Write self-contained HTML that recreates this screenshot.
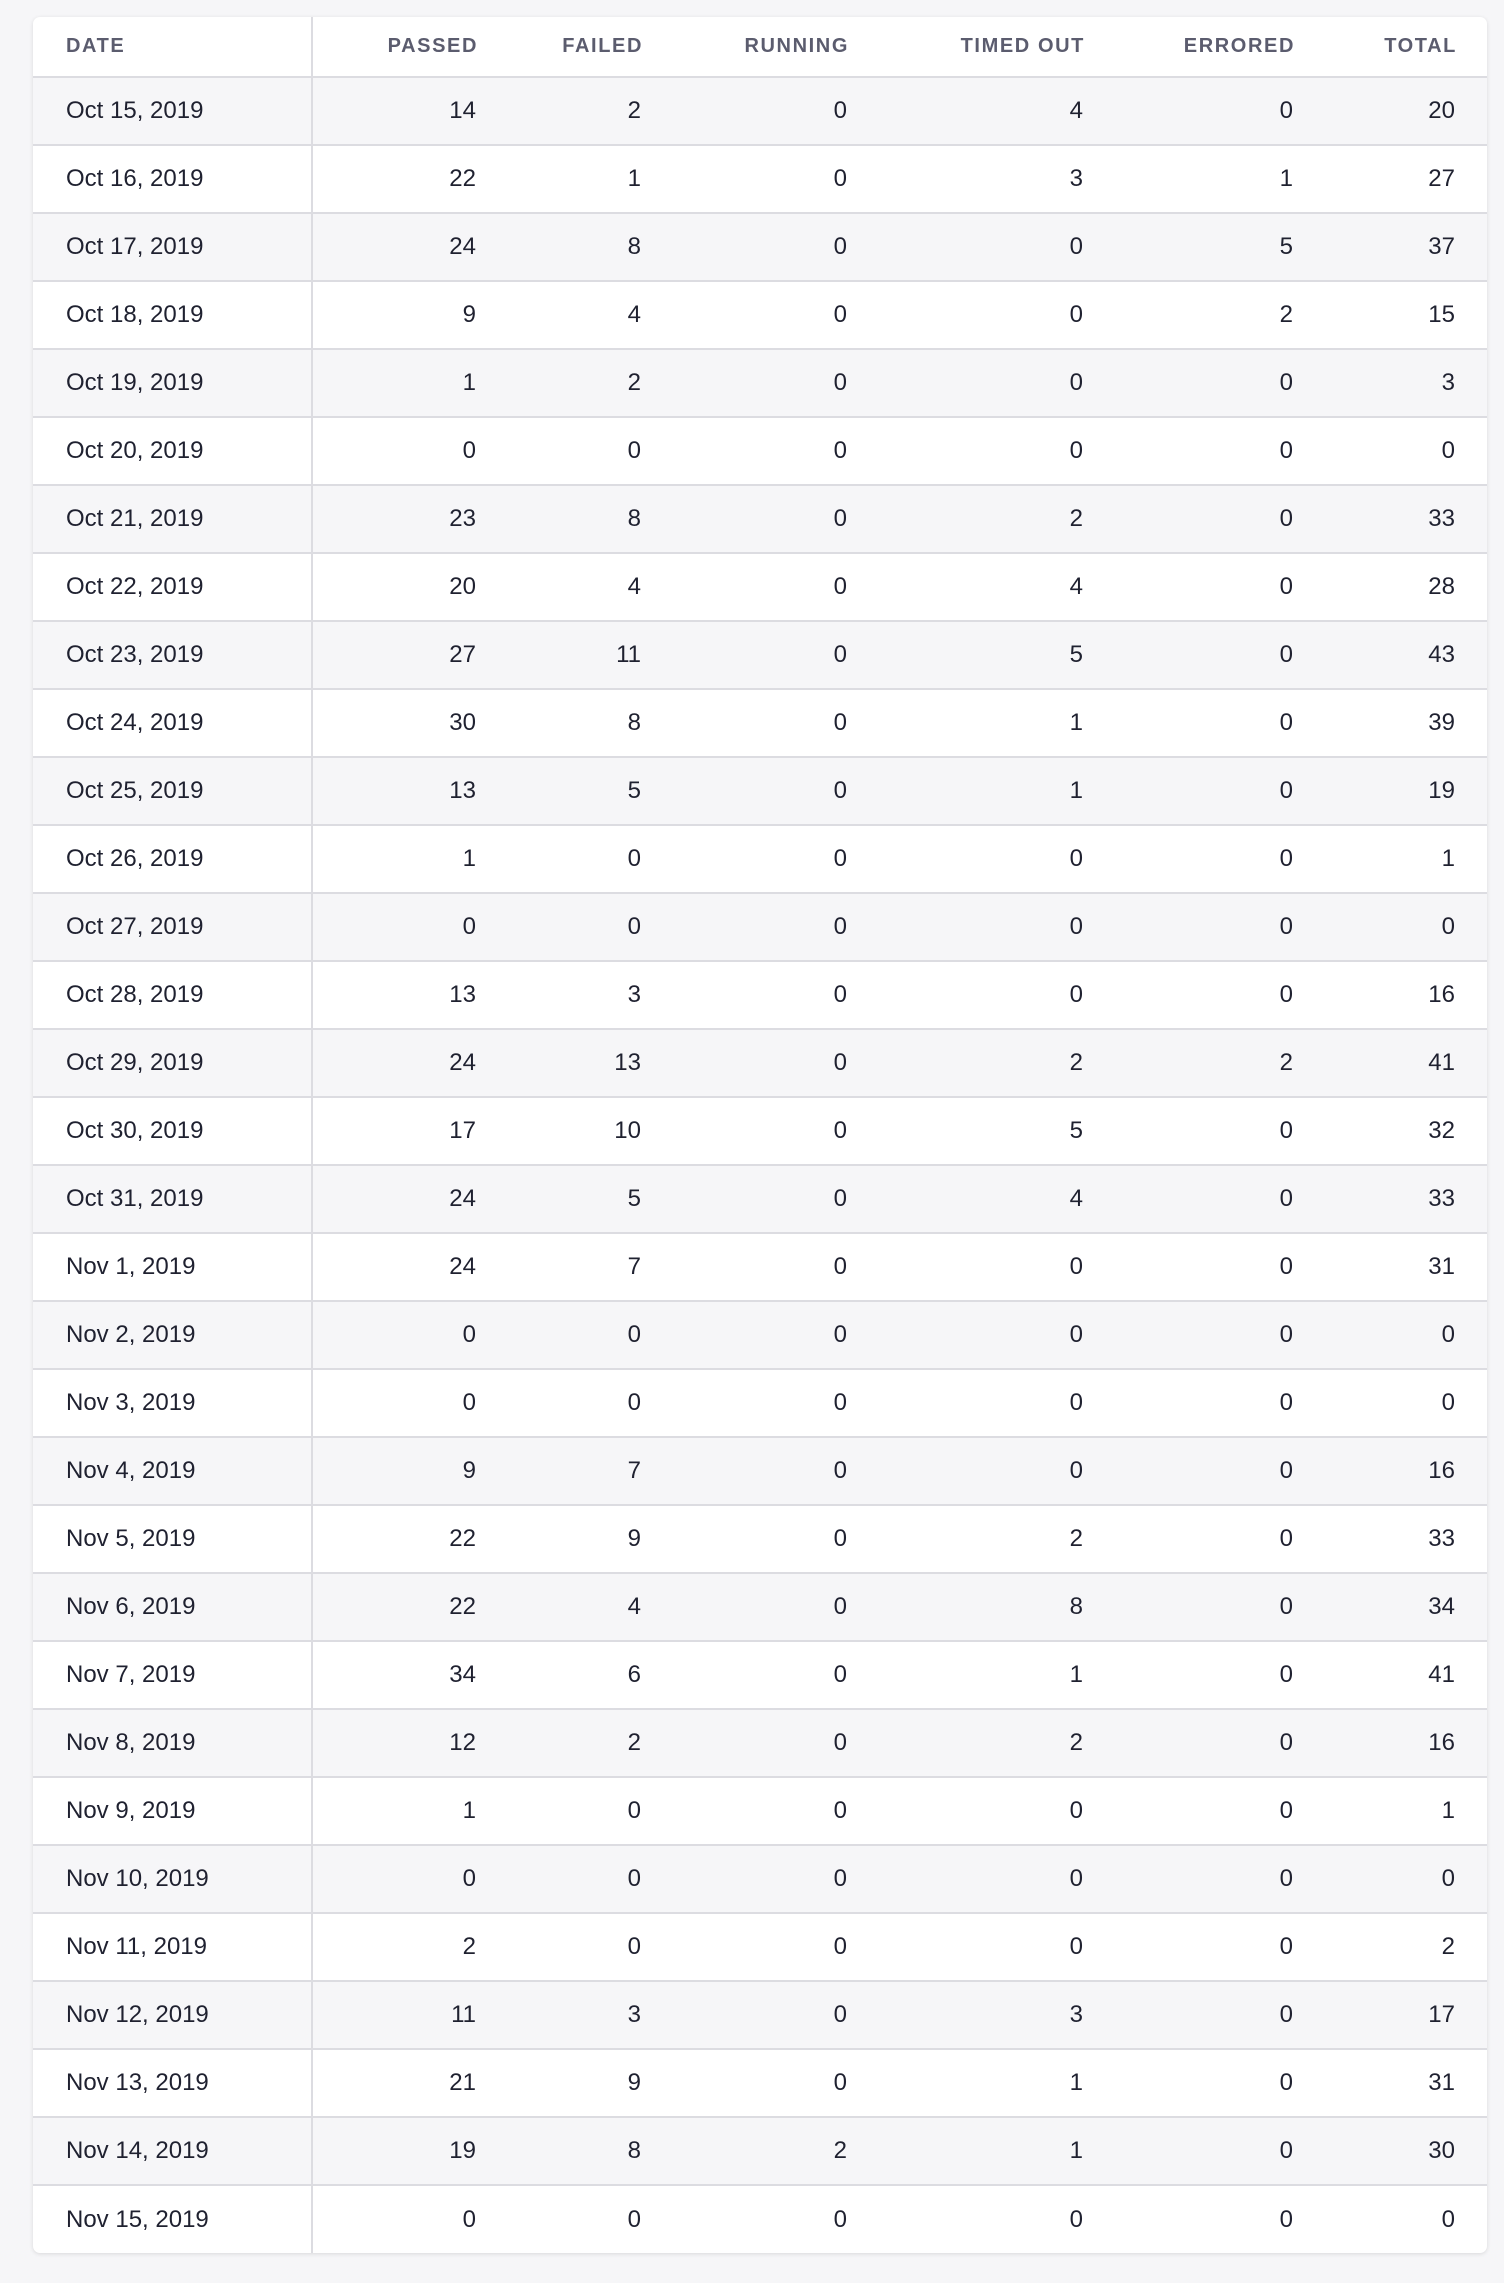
<!DOCTYPE html>
<html><head><meta charset="utf-8">
<style>
html,body{margin:0;padding:0;background:#f6f6f8;width:1504px;height:2283px;overflow:hidden}
#card{position:absolute;left:33px;top:17px;width:1454px;background:#fff;border-radius:7px;box-shadow:0 1px 4px rgba(0,0,0,0.12);overflow:hidden}
table{border-collapse:collapse;table-layout:fixed;width:1454px;font-family:"Liberation Sans",sans-serif}
th{height:60px;font-size:20px;font-weight:bold;letter-spacing:1.6px;color:#5b5c6e;text-align:right;padding:0 30px 0 0;border-bottom:2px solid #dcdce1;box-sizing:border-box}
td{height:68px;font-size:24px;color:#1f2130;text-align:right;padding:0 32px 0 0;border-top:2px solid #dcdce1;box-sizing:border-box}
tr.odd td{background:#f6f6f8}
th:first-child,td:first-child{text-align:left;padding:0 0 0 33px;border-right:2px solid #dcdce1}
tbody tr:first-child td{border-top:none}
</style></head>
<body>
<div id="card">
<table>
<colgroup><col style="width:279px"><col style="width:196px"><col style="width:165px"><col style="width:206px"><col style="width:236px"><col style="width:210px"><col style="width:162px"></colgroup>
<thead><tr>
<th>DATE</th>
<th>PASSED</th>
<th>FAILED</th>
<th>RUNNING</th>
<th>TIMED OUT</th>
<th>ERRORED</th>
<th>TOTAL</th>
</tr></thead>
<tbody id="tb"></tbody>
</table>
</div>
<script>
const dates=["Oct 15, 2019","Oct 16, 2019","Oct 17, 2019","Oct 18, 2019","Oct 19, 2019","Oct 20, 2019","Oct 21, 2019","Oct 22, 2019","Oct 23, 2019","Oct 24, 2019","Oct 25, 2019","Oct 26, 2019","Oct 27, 2019","Oct 28, 2019","Oct 29, 2019","Oct 30, 2019","Oct 31, 2019","Nov 1, 2019","Nov 2, 2019","Nov 3, 2019","Nov 4, 2019","Nov 5, 2019","Nov 6, 2019","Nov 7, 2019","Nov 8, 2019","Nov 9, 2019","Nov 10, 2019","Nov 11, 2019","Nov 12, 2019","Nov 13, 2019","Nov 14, 2019","Nov 15, 2019"];
const passed=[14,22,24,9,1,0,23,20,27,30,13,1,0,13,24,17,24,24,0,0,9,22,22,34,12,1,0,2,11,21,19,0];
const failed=[2,1,8,4,2,0,8,4,11,8,5,0,0,3,13,10,5,7,0,0,7,9,4,6,2,0,0,0,3,9,8,0];
const running=[0,0,0,0,0,0,0,0,0,0,0,0,0,0,0,0,0,0,0,0,0,0,0,0,0,0,0,0,0,0,2,0];
const timedOut=[4,3,0,0,0,0,2,4,5,1,1,0,0,0,2,5,4,0,0,0,0,2,8,1,2,0,0,0,3,1,1,0];
const errored=[0,1,5,2,0,0,0,0,0,0,0,0,0,0,2,0,0,0,0,0,0,0,0,0,0,0,0,0,0,0,0,0];
const totals=[20,27,37,15,3,0,33,28,43,39,19,1,0,16,41,32,33,31,0,0,16,33,34,41,16,1,0,2,17,31,30,0];
const tb=document.getElementById('tb');
const cols=[["date",dates],["passed",passed],["failed",failed],["running",running],["timed-out",timedOut],["errored",errored],["total",totals]];
dates.forEach((d,i)=>{
  const tr=document.createElement('tr');
  
  
  if(i%2===0) tr.className='odd';
  cols.forEach(c=>{
    const td=document.createElement('td');
    
    
    td.textContent=c[1][i];
    tr.appendChild(td);
  });
  tb.appendChild(tr);
});
</script>
</body></html>
